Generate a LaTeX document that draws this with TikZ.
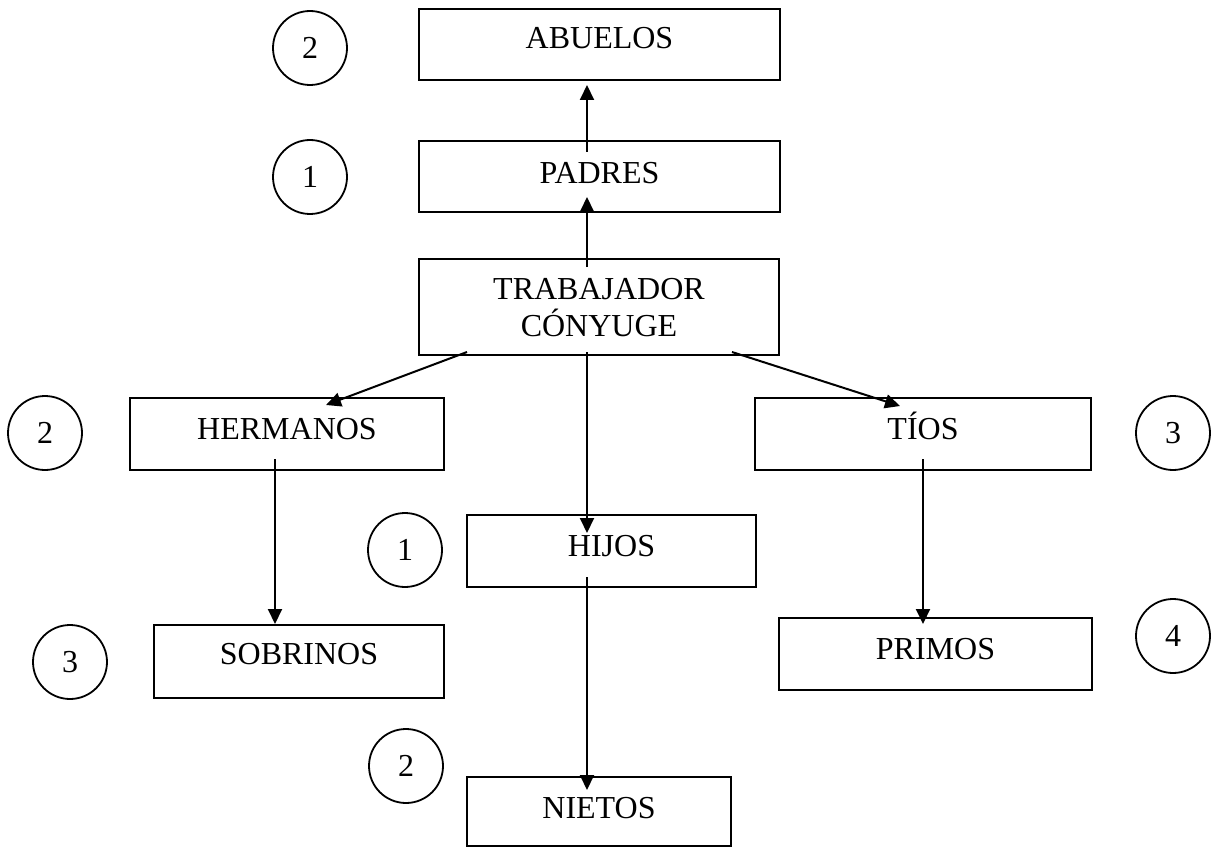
\documentclass[tikz,border=0pt]{standalone}
\usepackage{fontspec}
\setmainfont{Liberation Serif}
\usetikzlibrary{arrows.meta}
\tikzset{
  famtext/.style={font=\fontsize{32}{37}\selectfont},
  famboxstyle/.style={famtext, draw, line width=2pt, inner xsep=0pt, inner ysep=0pt, anchor=north west, align=center},
  numcirc/.style={famtext, draw, circle, line width=1.8pt, minimum size=74pt, inner sep=0pt},
  famarrow/.style={line width=2pt, -{Triangle[length=15pt,width=14pt]}}
}
\begin{document}
\begin{tikzpicture}[x=1pt,y=-1pt]
\useasboundingbox (0,0) rectangle (1211,848);
% boxes: minimum width, text height = baseline-top, text depth = bottom-baseline
\node[famboxstyle, minimum width=361pt, text height=40pt, text depth=31pt] (abuelos) at (418,8) {ABUELOS};
\node[famboxstyle, minimum width=361pt, text height=42pt, text depth=29pt] (padres) at (418,140) {PADRES};
\node[famboxstyle, minimum width=360pt, text height=77pt, text depth=19pt] (trab) at (418,258) {TRABAJADOR\\CÓNYUGE};
\node[famboxstyle, minimum width=314pt, text height=41pt, text depth=31pt] (herm) at (129,397) {HERMANOS};
\node[famboxstyle, minimum width=336pt, text height=41pt, text depth=31pt] (tios) at (754,397) {TÍOS};
\node[famboxstyle, minimum width=289pt, text height=41pt, text depth=31pt] (hijos) at (466,514) {HIJOS};
\node[famboxstyle, minimum width=290pt, text height=39pt, text depth=34pt] (sobrinos) at (153,624) {SOBRINOS};
\node[famboxstyle, minimum width=313pt, text height=41pt, text depth=31pt] (primos) at (778,617) {PRIMOS};
\node[famboxstyle, minimum width=264pt, text height=41pt, text depth=28pt] (nietos) at (466,776) {NIETOS};
% circles
\node[numcirc] (c1) at (310,48) {2};
\node[numcirc] (c2) at (310,177) {1};
\node[numcirc] (c3) at (45,433) {2};
\node[numcirc] (c4) at (1173,433) {3};
\node[numcirc] (c5) at (405,550) {1};
\node[numcirc] (c6) at (70,662) {3};
\node[numcirc] (c7) at (1173,636) {4};
\node[numcirc] (c8) at (406,766) {2};
% connectors
\draw[famarrow] ([xshift=-12.5pt,yshift=-12pt]padres.north) -- ([xshift=-12.5pt,yshift=-4pt]abuelos.south);
\draw[famarrow] ([xshift=-12pt,yshift=-9pt]trab.north) -- ([xshift=-12.5pt,yshift=16pt]padres.south);
\draw[famarrow] ([xshift=49pt,yshift=4pt]trab.south west) -- ([xshift=39pt,yshift=-8pt]herm.north);
\draw[famarrow] ([xshift=-48pt,yshift=4pt]trab.south east) -- ([xshift=-23pt,yshift=-9pt]tios.north);
\draw[famarrow] ([xshift=-12pt,yshift=4pt]trab.south) -- ([xshift=-24.5pt,yshift=-19pt]hijos.north);
\draw[famarrow] ([xshift=-12pt,yshift=12pt]herm.south) -- ([xshift=-24pt]sobrinos.north);
\draw[famarrow] ([yshift=12pt]tios.south) -- ([xshift=-12.5pt,yshift=-7pt]primos.north);
\draw[famarrow] ([xshift=-24.5pt,yshift=11pt]hijos.south) -- ([xshift=-12pt,yshift=-14pt]nietos.north);
\end{tikzpicture}
\end{document}
